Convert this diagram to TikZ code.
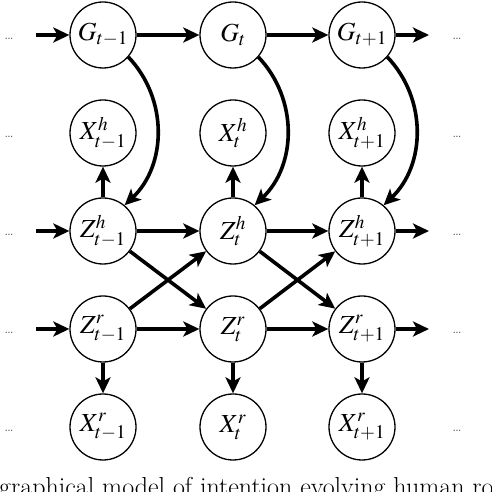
\documentclass[tikz,border=0pt]{standalone}
\usepackage{mathptmx}
\usetikzlibrary{arrows.meta}
\begin{document}
\begin{tikzpicture}[x=1pt,y=1pt,
  var/.style={circle,draw,line width=1.3pt,minimum size=66pt,inner sep=0pt,font=\fontsize{26}{30}\selectfont},
  arr/.style={line width=3.6pt,-{Stealth[length=16pt,width=15pt,inset=4pt]}},
  dots/.style={font=\fontsize{16}{18}\selectfont,text=black!70,inner sep=0pt}]
\useasboundingbox (0,0) rectangle (492,492);
\clip (0,0) rectangle (492,492);
% nodes
\node[var] (G1) at (103,457) {$G_{t-1}$};
\node[var] (G2) at (233,457) {$G_{t}$};
\node[var] (G3) at (362,457) {$G_{t+1}$};
\node[var] (Xh1) at (103,359) {$X^h_{t-1}$};
\node[var] (Xh2) at (233,359) {$X^h_{t}$};
\node[var] (Xh3) at (362,359) {$X^h_{t+1}$};
\node[var] (Zh1) at (103,261) {$Z^h_{t-1}$};
\node[var] (Zh2) at (233,261) {$Z^h_{t}$};
\node[var] (Zh3) at (362,261) {$Z^h_{t+1}$};
\node[var] (Zr1) at (103,163) {$Z^r_{t-1}$};
\node[var] (Zr2) at (233,163) {$Z^r_{t}$};
\node[var] (Zr3) at (362,163) {$Z^r_{t+1}$};
\node[var] (Xr1) at (103,65) {$X^r_{t-1}$};
\node[var] (Xr2) at (233,65) {$X^r_{t}$};
\node[var] (Xr3) at (362,65) {$X^r_{t+1}$};
% dots
\foreach \r/\y in {a/457,b/359,c/261,d/163,e/65}{
  \node[dots] (dl\r) at (9,\y-4) {\ldots};
  \node[dots] (dr\r) at (457,\y-4) {\ldots};
}
% free ends
\coordinate (inG) at (36,457);
\coordinate (inZh) at (36,261);
\coordinate (inZr) at (36,163);
\coordinate (outG) at (429,457);
\coordinate (outZh) at (429,261);
\coordinate (outZr) at (429,163);
% horizontal
\draw[arr] (inG) -- (G1);
\draw[arr] (G1) -- (G2);
\draw[arr] (G2) -- (G3);
\draw[arr] (G3) -- (outG);
\draw[arr] (inZh) -- (Zh1);
\draw[arr] (Zh1) -- (Zh2);
\draw[arr] (Zh2) -- (Zh3);
\draw[arr] (Zh3) -- (outZh);
\draw[arr] (inZr) -- (Zr1);
\draw[arr] (Zr1) -- (Zr2);
\draw[arr] (Zr2) -- (Zr3);
\draw[arr] (Zr3) -- (outZr);
% vertical and curved
\foreach \i in {1,2,3}{
  \draw[arr] (Zh\i) -- (Xh\i);
  \draw[arr] (Zr\i) -- (Xr\i);
  \draw[arr] (G\i.-41) to[bend left=45] (Zh\i.50);
}
% cross
\draw[arr] (Zh1) -- (Zr2);
\draw[arr] (Zr1) -- (Zh2);
\draw[arr] (Zh2) -- (Zr3);
\draw[arr] (Zr2) -- (Zh3);
% caption (cut off)
\node[anchor=base west,inner sep=0pt,font=\fontsize{26}{30}\selectfont] (cap) at (-1,-4) {graphical model of intention evolving human ro};
\end{tikzpicture}
\end{document}
